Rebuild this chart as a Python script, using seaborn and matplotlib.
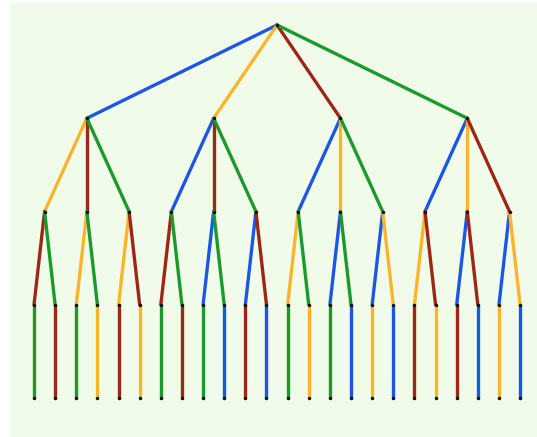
import pandas as pd
import seaborn as sns
import matplotlib.pyplot as plt

# colour codes for each branch
color_map = {"B": "#1b57e4", "O": "#fcb42a", "R": "#9c2714", "G": "#1a9a2b"}

# every leaf is one root-to-leaf path, read left to right
paths = [
    "BORG", "BOGR", "BROG", "BRGO", "BGOR", "BGRO",
    "OBRG", "OBGR", "ORBG", "ORGB", "OGBR", "OGRB",
    "RBOG", "RBGO", "ROBG", "ROGB", "RGBO", "RGOB",
    "GBOR", "GBRO", "GOBR", "GORB", "GRBO", "GROB",
]


def node_x(prefix):
    idx = [i for i, p in enumerate(paths) if p.startswith(prefix)]
    return sum(idx) / len(idx)


rows = []
nodes = []
seen = set()
for p in paths:
    for k in range(1, len(p) + 1):
        child = p[:k]
        if child in seen:
            continue
        seen.add(child)
        parent = p[:k - 1]
        rows.append({"edge": child, "x": node_x(parent), "depth": k - 1, "color": p[k - 1]})
        rows.append({"edge": child, "x": node_x(child), "depth": k, "color": p[k - 1]})
        nodes.append({"x": node_x(child), "depth": k})
nodes.append({"x": node_x(""), "depth": 0})

edges = pd.DataFrame(rows)
nodes = pd.DataFrame(nodes)

sns.set_style("white")
fig = plt.figure(figsize=(5.37, 4.37), dpi=100)
fig.patch.set_facecolor("white")
ax = fig.add_axes([10 / 537, 0, 527 / 537, 434 / 437])
ax.set_facecolor("#f1fbea")

sns.lineplot(data=edges, x="x", y="depth", units="edge", estimator=None, sort=False,
             hue="color", palette=color_map, legend=False, linewidth=2.4, ax=ax)
sns.scatterplot(data=nodes, x="x", y="depth", color="#111111", s=6, linewidth=0,
                zorder=5, legend=False, ax=ax)

ax.set_xlim(-1.136, 23.80)
ax.set_ylim(4.418, -0.236)
ax.set_xlabel("")
ax.set_ylabel("")
ax.set_xticks([])
ax.set_yticks([])
for s in ax.spines.values():
    s.set_visible(False)

fig.savefig("out.png", dpi=100)
